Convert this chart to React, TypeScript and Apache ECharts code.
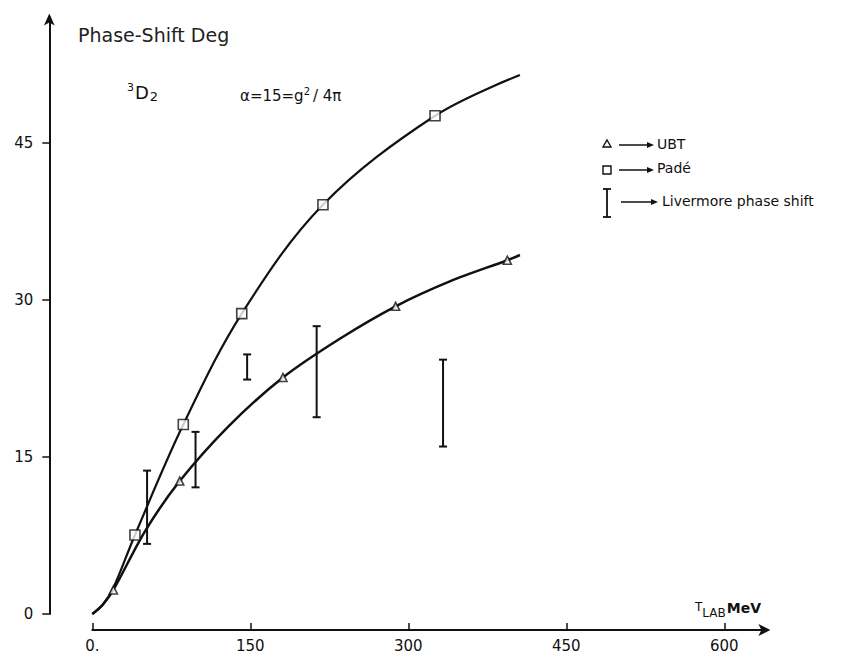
import React, { useEffect, useRef } from 'react';
import * as echarts from 'echarts';

// ---- data ----
const xTickValues = [0, 150, 300, 450, 600];
const xTickLabels = ['0.', '150', '300', '450', '600'];
const yTickValues = [0, 15, 30, 45];
const yTickLabels = ['0', '15', '30', '45'];

// UBT (triangles) and its fitted curve
const ubtPoints = [[20, 2.3], [83, 12.7], [181, 22.6], [288, 29.4], [394, 33.8]];
const ubtCurve = [[0, 0], [10, 0.9], [20, 2.3], [50, 7.9], [83, 12.7], [130, 18.0], [181, 22.6], [235, 26.3], [288, 29.4], [340, 31.8], [394, 33.8], [406, 34.3]];

// Padé (squares) and its fitted curve
const padePoints = [[40.5, 7.55], [86.4, 18.1], [141.9, 28.7], [219, 39.1], [325.4, 47.6]];
const padeCurve = [[0, 0], [10, 0.9], [20, 2.5], [40.5, 7.55], [86.4, 18.1], [141.9, 28.7], [219, 39.1], [325.4, 47.6], [406, 51.5]];

// Livermore phase shift error bars: [T, low, high]
const livermore = [[52, 6.7, 13.7], [98, 12.1, 17.4], [147, 22.4, 24.8], [213, 18.8, 27.5], [333, 16.0, 24.3]];

const FONT = 'DejaVu Sans';
const INK = '#111';

export default function App() {
  const ref = useRef<HTMLDivElement>(null);

  useEffect(() => {
    if (!ref.current) return;
    const chart = echarts.init(ref.current, undefined, { renderer: 'svg' });

    const arrow = (x1: number, x2: number, y: number) => [
      { type: 'line', shape: { x1, y1: y, x2: x2 - 5, y2: y }, style: { stroke: INK, lineWidth: 1.5 } },
      { type: 'polygon', shape: { points: [[x2 - 7, y - 3], [x2, y], [x2 - 7, y + 3]] }, style: { fill: INK } },
    ];

    const option: any = {
      animation: false,
      backgroundColor: '#fff',
      grid: { left: 92.3, right: 74.6, top: 17.4, bottom: 46, containLabel: false },
      xAxis: {
        type: 'value',
        min: 0,
        max: 640,
        interval: 150,
        offset: 16,
        splitLine: { show: false },
        axisLine: { show: true, onZero: false, lineStyle: { color: INK, width: 2 }, symbol: ['none', 'arrow'], symbolSize: [9, 12], symbolOffset: [0, 4] },
        axisTick: { show: true, inside: true, length: 7, lineStyle: { color: INK, width: 1.5 } },
        axisLabel: {
          margin: 8,
          color: INK,
          fontFamily: FONT,
          fontSize: 15,
          showMaxLabel: false,
          formatter: (v: number) => {
            const i = xTickValues.indexOf(v);
            return i >= 0 ? xTickLabels[i] : '';
          },
        },
      },
      yAxis: {
        type: 'value',
        min: 0,
        max: 57,
        interval: 15,
        offset: 43,
        splitLine: { show: false },
        axisLine: { show: true, onZero: false, lineStyle: { color: INK, width: 2 }, symbol: ['none', 'arrow'], symbolSize: [8, 12], symbolOffset: [0, 4] },
        axisTick: { show: true, length: 7, lineStyle: { color: INK, width: 1.5 } },
        axisLabel: {
          margin: 16,
          color: INK,
          fontFamily: FONT,
          fontSize: 15,
          showMaxLabel: false,
          formatter: (v: number) => {
            const i = yTickValues.indexOf(v);
            return i >= 0 ? yTickLabels[i] : '';
          },
        },
      },
      series: [
        {
          type: 'line',
          data: padeCurve,
          smooth: 0.35,
          showSymbol: false,
          lineStyle: { color: INK, width: 2.2 },
          z: 2,
        },
        {
          type: 'line',
          data: ubtCurve,
          smooth: 0.3,
          showSymbol: false,
          lineStyle: { color: INK, width: 2.5 },
          z: 2,
        },
        {
          type: 'scatter',
          data: padePoints,
          symbol: 'rect',
          symbolSize: 10,
          itemStyle: { color: '#fff', borderColor: INK, borderWidth: 1.6 },
          z: 5,
        },
        {
          type: 'scatter',
          data: ubtPoints,
          symbol: 'triangle',
          symbolSize: 8,
          itemStyle: { color: '#fff', borderColor: INK, borderWidth: 1.6 },
          z: 5,
        },
        {
          type: 'custom',
          data: livermore,
          z: 4,
          renderItem: (params: any, api: any) => {
            const x = api.value(0);
            const lo = api.coord([x, api.value(1)]);
            const hi = api.coord([x, api.value(2)]);
            const w = 4;
            const st = { stroke: INK, lineWidth: 2 };
            return {
              type: 'group',
              children: [
                { type: 'line', shape: { x1: lo[0], y1: lo[1], x2: hi[0], y2: hi[1] }, style: st },
                { type: 'line', shape: { x1: hi[0] - w, y1: hi[1], x2: hi[0] + w, y2: hi[1] }, style: st },
                { type: 'line', shape: { x1: lo[0] - w, y1: lo[1], x2: lo[0] + w, y2: lo[1] }, style: st },
              ],
            };
          },
        },
      ],
      graphic: [
        {
          type: 'text',
          left: 78,
          top: 25,
          style: { text: 'Phase-Shift Deg', fontFamily: FONT, fontSize: 19, fill: '#222' },
        },
        {
          type: 'text',
          left: 127,
          top: 82,
          style: {
            text: '{sup|3}{m|D}{sub|2}',
            fill: INK,
            rich: {
              sup: { fontFamily: FONT, fontSize: 11, verticalAlign: 'top', padding: [0, 1, 10, 0] },
              m: { fontFamily: FONT, fontSize: 18 },
              sub: { fontFamily: FONT, fontSize: 13, padding: [8, 0, 0, 1] },
            },
          },
        },
        {
          type: 'text',
          left: 240,
          top: 86,
          style: {
            text: '{a|α=15=g}{sup|2}{a|/ 4π}',
            fill: INK,
            rich: {
              a: { fontFamily: FONT, fontSize: 15 },
              sup: { fontFamily: FONT, fontSize: 10, padding: [0, 3, 10, 0] },
            },
          },
        },
        // legend
        { type: 'polygon', shape: { points: [[607, 140], [611, 147], [603, 147]] }, style: { fill: '#fff', stroke: INK, lineWidth: 1.4 } },
        ...arrow(619, 654, 145),
        { type: 'text', left: 657, top: 137, style: { text: 'UBT', fontFamily: FONT, fontSize: 14, fill: INK } },
        { type: 'rect', shape: { x: 603, y: 166, width: 8, height: 8 }, style: { fill: '#fff', stroke: INK, lineWidth: 1.4 } },
        ...arrow(619, 654, 170),
        { type: 'text', left: 657, top: 161, style: { text: 'Padé', fontFamily: FONT, fontSize: 14, fill: INK } },
        { type: 'line', shape: { x1: 607, y1: 189, x2: 607, y2: 217 }, style: { stroke: INK, lineWidth: 1.8 } },
        { type: 'line', shape: { x1: 603, y1: 189, x2: 611, y2: 189 }, style: { stroke: INK, lineWidth: 1.8 } },
        { type: 'line', shape: { x1: 603, y1: 217, x2: 611, y2: 217 }, style: { stroke: INK, lineWidth: 1.8 } },
        ...arrow(621, 658, 202),
        { type: 'text', left: 662, top: 194, style: { text: 'Livermore phase shift', fontFamily: FONT, fontSize: 14, fill: INK } },
        // x-axis name
        {
          type: 'text',
          left: 695,
          top: 601,
          style: {
            text: '{t|T}{sub|LAB}{m|MeV}',
            fill: INK,
            rich: {
              t: { fontFamily: FONT, fontSize: 12, padding: [0, 0, 6, 0] },
              sub: { fontFamily: FONT, fontSize: 12, padding: [6, 1, 0, 0] },
              m: { fontFamily: FONT, fontSize: 14, fontWeight: 'bold', padding: [0, 0, 4, 0] },
            },
          },
        },
      ],
    };

    chart.setOption(option);
    return () => chart.dispose();
  }, []);

  return <div ref={ref} style={{ position: 'fixed', left: 0, top: 0, width: 841, height: 660, background: '#fff' }} />;
}
